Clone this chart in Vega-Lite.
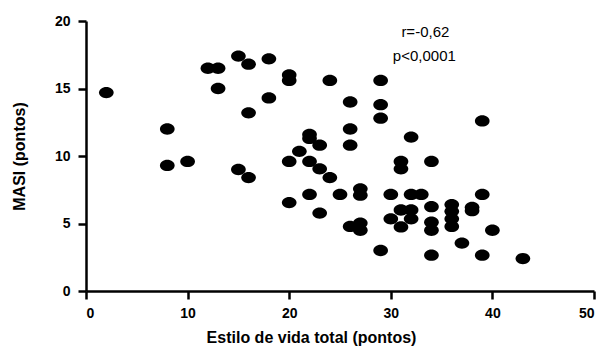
{
  "$schema": "https://vega.github.io/schema/vega-lite/v6.json",
  "autosize": "none",
  "width": 508,
  "height": 270,
  "padding": {"left": 86, "top": 21, "right": 12, "bottom": 62},
  "background": "white",
  "config": {
    "view": {"stroke": null},
    "axis": {
      "grid": false,
      "domainColor": "black",
      "domainWidth": 2.5,
      "tickColor": "black",
      "tickWidth": 2.5,
      "tickSize": 8,
      "labelFont": "Liberation Sans",
      "labelFontWeight": "bold",
      "labelFontSize": 14,
      "labelColor": "black",
      "titleFont": "Liberation Sans",
      "titleFontWeight": "bold",
      "titleFontSize": 16,
      "titleColor": "black"
    }
  },
  "layer": [
    {
      "data": {
        "values": [
          {"estilo": 2, "masi": 14.7},
          {"estilo": 8, "masi": 12.0},
          {"estilo": 8, "masi": 9.3},
          {"estilo": 10, "masi": 9.6},
          {"estilo": 12, "masi": 16.5},
          {"estilo": 13, "masi": 16.5},
          {"estilo": 13, "masi": 15.0},
          {"estilo": 15, "masi": 17.4},
          {"estilo": 16, "masi": 16.8},
          {"estilo": 18, "masi": 17.2},
          {"estilo": 18, "masi": 14.3},
          {"estilo": 16, "masi": 13.2},
          {"estilo": 20, "masi": 16.0},
          {"estilo": 20, "masi": 15.6},
          {"estilo": 24, "masi": 15.6},
          {"estilo": 29, "masi": 15.6},
          {"estilo": 26, "masi": 14.0},
          {"estilo": 29, "masi": 13.8},
          {"estilo": 29, "masi": 12.8},
          {"estilo": 39, "masi": 12.6},
          {"estilo": 26, "masi": 12.0},
          {"estilo": 22, "masi": 11.6},
          {"estilo": 22, "masi": 11.3},
          {"estilo": 23, "masi": 10.8},
          {"estilo": 26, "masi": 10.8},
          {"estilo": 32, "masi": 11.4},
          {"estilo": 21, "masi": 10.35},
          {"estilo": 20, "masi": 9.6},
          {"estilo": 22, "masi": 9.6},
          {"estilo": 23, "masi": 9.05},
          {"estilo": 24, "masi": 8.4},
          {"estilo": 15, "masi": 9.0},
          {"estilo": 16, "masi": 8.4},
          {"estilo": 31, "masi": 9.6},
          {"estilo": 31, "masi": 9.05},
          {"estilo": 34, "masi": 9.6},
          {"estilo": 20, "masi": 6.55},
          {"estilo": 22, "masi": 7.15},
          {"estilo": 25, "masi": 7.15},
          {"estilo": 27, "masi": 7.57},
          {"estilo": 27, "masi": 7.1},
          {"estilo": 23, "masi": 5.77},
          {"estilo": 30, "masi": 7.15},
          {"estilo": 32, "masi": 7.15},
          {"estilo": 33, "masi": 7.15},
          {"estilo": 39, "masi": 7.15},
          {"estilo": 31, "masi": 6.0},
          {"estilo": 32, "masi": 6.0},
          {"estilo": 30, "masi": 5.35},
          {"estilo": 32, "masi": 5.35},
          {"estilo": 31, "masi": 4.75},
          {"estilo": 34, "masi": 6.25},
          {"estilo": 34, "masi": 5.1},
          {"estilo": 34, "masi": 4.5},
          {"estilo": 36, "masi": 6.4},
          {"estilo": 36, "masi": 5.9},
          {"estilo": 36, "masi": 5.35},
          {"estilo": 36, "masi": 4.78},
          {"estilo": 38, "masi": 6.2},
          {"estilo": 38, "masi": 5.95},
          {"estilo": 26, "masi": 4.78},
          {"estilo": 27, "masi": 5.03},
          {"estilo": 27, "masi": 4.5},
          {"estilo": 29, "masi": 3.0},
          {"estilo": 34, "masi": 2.65},
          {"estilo": 37, "masi": 3.55},
          {"estilo": 39, "masi": 2.65},
          {"estilo": 40, "masi": 4.5},
          {"estilo": 43, "masi": 2.4}
        ]
      },
      "mark": {
        "type": "point",
        "filled": true,
        "color": "black",
        "opacity": 1,
        "size": 215,
        "shape": "M -1 0 A 1 0.77 0 1 0 1 0 A 1 0.77 0 1 0 -1 0 Z"
      },
      "encoding": {
        "x": {
          "field": "estilo",
          "type": "quantitative",
          "scale": {"domain": [0, 50], "nice": false},
          "axis": {"title": "Estilo de vida total (pontos)", "values": [0, 10, 20, 30, 40, 50], "labelPadding": 7, "titlePadding": 9, "titleX": 225}
        },
        "y": {
          "field": "masi",
          "type": "quantitative",
          "scale": {"domain": [0, 20], "nice": false},
          "axis": {"title": "MASI (pontos)", "values": [0, 5, 10, 15, 20], "labelPadding": 8, "titlePadding": 27}
        }
      }
    },
    {
      "data": {
        "values": [
          {"estilo": 33.4, "masi": 19.15, "label": "r=-0,62"},
          {"estilo": 33.3, "masi": 17.4, "label": "p<0,0001"}
        ]
      },
      "mark": {
        "type": "text",
        "font": "Liberation Sans",
        "fontSize": 15,
        "color": "black",
        "align": "center",
        "baseline": "middle"
      },
      "encoding": {
        "x": {"field": "estilo", "type": "quantitative"},
        "y": {"field": "masi", "type": "quantitative"},
        "text": {"field": "label"}
      }
    }
  ]
}
